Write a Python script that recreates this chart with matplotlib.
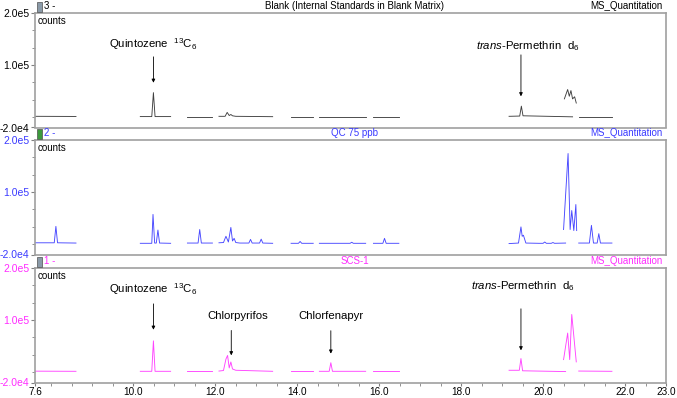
import matplotlib
matplotlib.use('Agg')
import matplotlib.pyplot as plt
from matplotlib.patches import Rectangle
from matplotlib.ticker import MultipleLocator, FixedLocator

plt.rcParams['font.family'] = ['Liberation Sans', 'DejaVu Sans']
plt.rcParams['mathtext.fontset'] = 'custom'
plt.rcParams['mathtext.rm'] = 'Liberation Sans'
plt.rcParams['mathtext.it'] = 'Liberation Sans:italic'

# retention time (min) and counts, one sub-list per acquisition segment
blank_t = [[7.6, 8.6],
           [10.17, 10.45, 10.49, 10.53, 10.91],
           [11.32, 11.93],
           [12.09, 12.24, 12.29, 12.34, 12.38, 12.42, 12.5, 13.4],
           [13.85, 14.39],
           [14.54, 15.67],
           [15.86, 16.48],
           [19.17, 19.43, 19.47, 19.51, 20.72],
           [20.52, 20.6, 20.64, 20.68, 20.72, 20.77, 20.81],
           [20.87, 21.68]]
blank_c = [[1500, 1200],
           [1000, 1000, 47000, 1000, 1000],
           [800, 800],
           [1500, 1500, 9000, 3000, 5000, 2500, 1500, 800],
           [800, 800],
           [800, 800],
           [700, 700],
           [1500, 2000, 21000, 2500, 500],
           [35000, 53000, 40000, 51000, 35000, 39000, 27000],
           [800, 800]]

qc_t = [[7.6, 8.07, 8.11, 8.15, 8.6],
        [10.17, 10.45, 10.48, 10.52, 10.56, 10.6, 10.64, 10.91],
        [11.32, 11.58, 11.62, 11.66, 11.93],
        [12.09, 12.2, 12.26, 12.32, 12.38, 12.42, 12.46, 12.5, 12.6,
         12.82, 12.86, 12.9, 13.08, 13.12, 13.16, 13.4],
        [13.85, 14.03, 14.07, 14.11, 14.39],
        [14.54, 15.29, 15.33, 15.37, 15.67],
        [15.86, 16.09, 16.13, 16.17, 16.48],
        [19.17, 19.4, 19.46, 19.49, 19.52, 19.58, 19.9, 20.0, 20.04, 20.08,
         20.2, 20.24, 20.28, 20.55],
        [20.5, 20.61, 20.66, 20.7, 20.75, 20.8, 20.82],
        [20.87, 21.13, 21.18, 21.23, 21.32, 21.36, 21.4, 21.68]]
qc_c = [[2500, 2500, 34000, 2500, 2000],
        [1500, 1500, 57000, 2000, 2000, 27000, 2000, 1500],
        [2000, 2000, 28000, 2000, 2000],
        [2500, 3000, 15000, 4000, 32000, 6000, 11000, 3000, 2000,
         2000, 9000, 2000, 2000, 9500, 2000, 1500],
        [1500, 1500, 5000, 1500, 1500],
        [1500, 1500, 3500, 1500, 1500],
        [1500, 1500, 11000, 1500, 1500],
        [1000, 2000, 33000, 15000, 17000, 2000, 1500, 1500, 4000, 1500,
         1500, 3000, 1500, 2000],
        [28000, 174000, 28000, 64500, 26000, 76000, 26000],
        [2000, 2000, 36000, 2000, 2000, 20000, 2000, 2000]]

scs_t = [[7.6, 8.6],
         [10.17, 10.45, 10.49, 10.53, 10.91],
         [11.32, 11.93],
         [12.09, 12.2, 12.26, 12.3, 12.34, 12.38, 12.42, 12.5, 13.4],
         [13.85, 14.39],
         [14.54, 14.78, 14.82, 14.86, 15.67],
         [15.86, 16.48],
         [19.17, 19.42, 19.46, 19.5, 20.55],
         [20.5, 20.6, 20.65, 20.7, 20.81],
         [20.87, 21.68]]
scs_c = [[1800, 1500],
         [1500, 1500, 60000, 1500, 1500],
         [1500, 1500],
         [2000, 3000, 25000, 32000, 8000, 19500, 6000, 3500, 1500],
         [1500, 1500],
         [1500, 1500, 18000, 1500, 1500],
         [1500, 1500],
         [3500, 3500, 26000, 2500, 1000],
         [24000, 75000, 24000, 110700, 19600],
         [2000, 1500]]

panel_nums = ['3 -', '2 -', '1 -']
panel_titles = ['Blank (Internal Standards in Blank Matrix)', 'QC 75 ppb', 'SCS-1']
panel_t = [blank_t, qc_t, scs_t]
panel_c = [blank_c, qc_c, scs_c]
text_colors = ['black', '#3a3aff', '#ff2cff']
trace_colors = ['#404040', '#4848ff', '#ff44ff']
icon_colors = ['#8a9aa8', '#3c9a3c', '#8a9aa8']

x_major = [7.6, 10.0, 12.0, 14.0, 16.0, 18.0, 20.0, 22.0, 23.0]
y_major = [-2.0e4, 1.0e5, 2.0e5]
y_labels = ['-2.0e4', '1.0e5', '2.0e5']

# label, arrow time, arrow tail, arrow tip, text time, text height
blank_notes = [(r'Quintozene  $^{13}$C$_6$', 10.49, 115800, 66000, 10.49, 140700),
               (r'$\mathit{trans}$-Permethrin  d$_6$', 19.46, 119600, 39900, 19.63, 135500)]
scs_notes = [(r'Quintozene  $^{13}$C$_6$', 10.49, 131100, 81400, 10.49, 159800),
             ('Chlorpyrifos', 12.39, 80000, 32200, 12.56, 108700),
             ('Chlorfenapyr', 14.82, 79500, 35500, 14.82, 108200),
             (r'$\mathit{trans}$-Permethrin  d$_6$', 19.46, 121600, 41800, 19.5, 166100)]
panel_notes = [blank_notes, [], scs_notes]

W, H = 677, 398
fig = plt.figure(figsize=(W / 100, H / 100), dpi=100)
tops = [13.0, 140.0, 268.0]
box_h = 114.5

for i in range(3):
    ax = fig.add_axes([35 / W, (H - tops[i] - box_h) / H, 631 / W, box_h / H])
    for t, c in zip(panel_t[i], panel_c[i]):
        ax.plot(t, c, color=trace_colors[i], lw=0.65)
    ax.set_xlim(7.6, 23.0)
    ax.set_ylim(-2.0e4, 2.0e5)
    for s in ax.spines.values():
        s.set_color('#a0a0a0')
        s.set_linewidth(1.2)
    ax.yaxis.set_major_locator(FixedLocator(y_major))
    ax.set_yticklabels(y_labels)
    ax.yaxis.set_minor_locator(MultipleLocator(1e5 / 3))
    ax.tick_params(axis='y', which='both', colors='#808080', labelcolor=text_colors[i],
                   labelsize=7.5, pad=1)
    ax.tick_params(axis='y', which='major', length=3)
    ax.tick_params(axis='y', which='minor', length=2)
    if i < 2:
        ax.set_xticks([])
    else:
        ax.set_xticks(x_major)
        ax.set_xticklabels(['%.1f' % v for v in x_major])
        ax.xaxis.set_minor_locator(MultipleLocator(0.5))
        ax.tick_params(axis='x', which='both', colors='#808080', labelcolor='black',
                       labelsize=7.2, pad=0.5)
        ax.tick_params(axis='x', which='major', length=2.5)
        ax.tick_params(axis='x', which='minor', length=1.8)

    ax.annotate('counts', xy=(0, 1), xycoords='axes fraction', xytext=(2, -2),
                textcoords='offset points', ha='left', va='top', fontsize=7)
    ax.annotate(panel_nums[i], xy=(0, 1), xycoords='axes fraction', xytext=(6.5, 4.8),
                textcoords='offset points', ha='left', va='center', fontsize=7,
                color=text_colors[i])
    ax.annotate(panel_titles[i], xy=(0.5, 1), xycoords='axes fraction', xytext=(3, 4.8),
                textcoords='offset points', ha='center', va='center', fontsize=7,
                color=text_colors[i])
    ax.annotate('MS_Quantitation', xy=(1, 1), xycoords='axes fraction', xytext=(-2.5, 4.8),
                textcoords='offset points', ha='right', va='center', fontsize=7,
                color=text_colors[i])

    for label, ta, tail, tip, tx, ty in panel_notes[i]:
        ax.annotate('', xy=(ta, tip), xytext=(ta, tail),
                    arrowprops=dict(arrowstyle='-|>', color='black', lw=0.6,
                                    mutation_scale=5, shrinkA=0, shrinkB=0))
        ax.text(tx, ty, label, ha='center', va='center', fontsize=8.2)

    # small chromatogram icon in the header row
    y_icon = H - tops[i] + 1.5
    fig.add_artist(Rectangle((36.5 / W, y_icon / H), 5 / W, 9.5 / H,
                             transform=fig.transFigure, facecolor=icon_colors[i],
                             edgecolor='#505050', lw=0.5))

fig.savefig('out.png', dpi=100)
